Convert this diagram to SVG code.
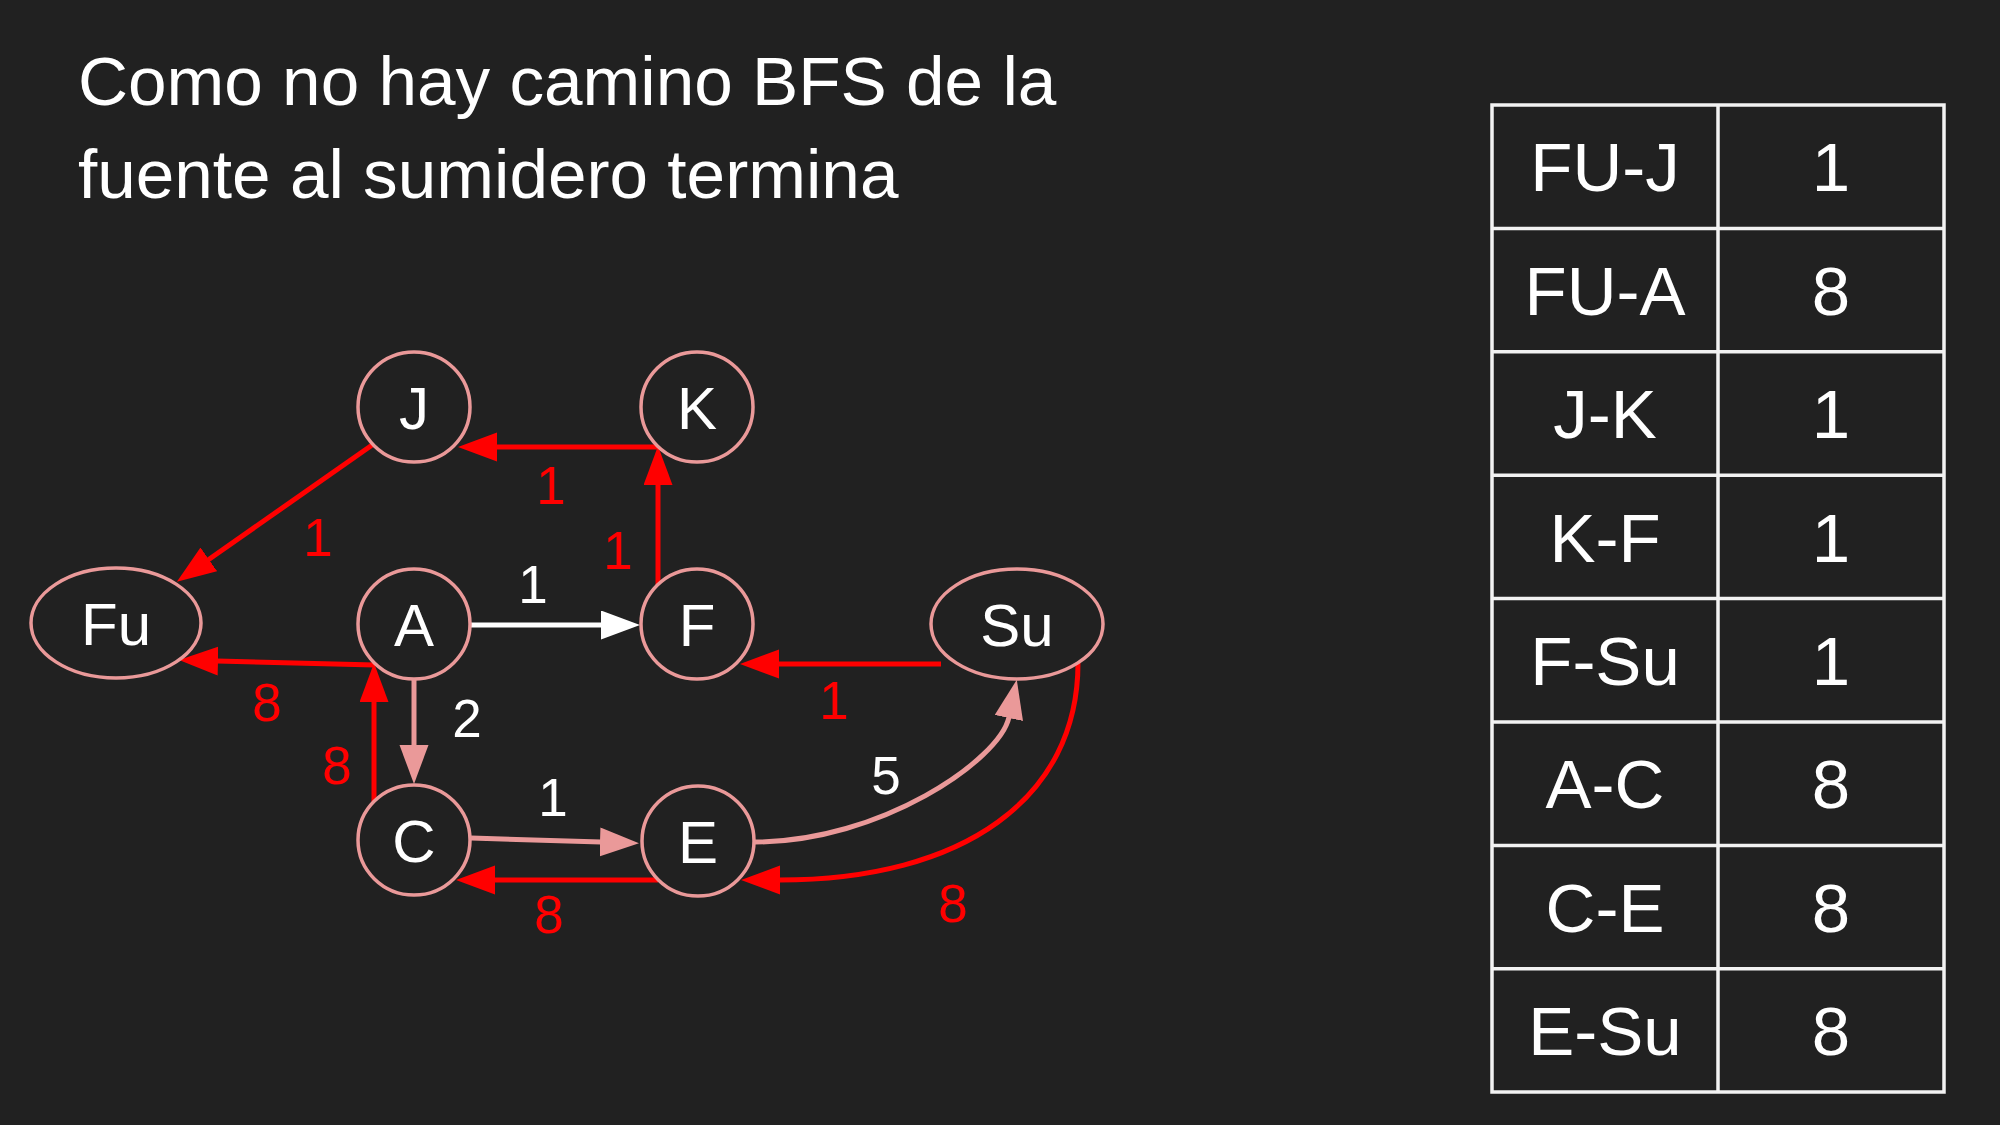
<svg xmlns="http://www.w3.org/2000/svg" width="2000" height="1125" viewBox="0 0 2000 1125">
<style>
text{font-family:"Liberation Sans",Arial,sans-serif;fill:#ffffff}
.title{font-size:69.3px}
.node ellipse{fill:#212121;stroke:#ea9999;stroke-width:3.5}
.node text{font-size:60px;text-anchor:middle}
.e{fill:none;stroke-width:5}
.red{stroke:#ff0000}
.pink{stroke:#ea9999}
.white{stroke:#ffffff}
.lbl{font-size:53px;text-anchor:middle}
.lr{fill:#ff0000}
.tbl line,.tbl rect{stroke:#f2f2f2;stroke-width:3.5;fill:none}
.tbl text{font-size:69px;text-anchor:middle}
</style>
<defs>
<marker id="ar" markerUnits="userSpaceOnUse" markerWidth="40" markerHeight="30" refX="1" refY="14.5" orient="auto"><path d="M0,0 L39,14.5 L0,29 Z" fill="#ff0000"/></marker>
<marker id="ap" markerUnits="userSpaceOnUse" markerWidth="40" markerHeight="30" refX="1" refY="14.5" orient="auto"><path d="M0,0 L39,14.5 L0,29 Z" fill="#ea9999"/></marker>
<marker id="aw" markerUnits="userSpaceOnUse" markerWidth="40" markerHeight="30" refX="1" refY="14.5" orient="auto"><path d="M0,0 L39,14.5 L0,29 Z" fill="#ffffff"/></marker>
</defs>
<rect width="2000" height="1125" fill="#212121"/>
<g id="title">
<text class="title" x="78" y="105">Como no hay camino BFS de la</text>
<text class="title" x="78" y="198">fuente al sumidero termina</text>
</g>
<g id="connectors">
<path class="e red" d="M375,443 L208,560" marker-end="url(#ar)"/>
<path class="e red" d="M658,447 L496,447" marker-end="url(#ar)"/>
<path class="e red" d="M658,587 L658,484" marker-end="url(#ar)"/>
<path class="e white" d="M470,625 L602,625" marker-end="url(#aw)"/>
<path class="e red" d="M375,665 L217,661" marker-end="url(#ar)"/>
<path class="e red" d="M374,802 L374,701" marker-end="url(#ar)"/>
<path class="e pink" d="M414,679 L414,746" marker-end="url(#ap)"/>
<path class="e pink" d="M471,838 L601,842" marker-end="url(#ap)"/>
<path class="e red" d="M658,880 L494,880" marker-end="url(#ar)"/>
<path class="e red" d="M941,664 L778,664" marker-end="url(#ar)"/>
<path class="e pink" d="M755,842 C880,842 1000,760 1009,717" marker-end="url(#ap)"/>
<path class="e red" d="M1078,663 C1078,798 964,880 779,880" marker-end="url(#ar)"/>
<text class="lbl lr" x="318" y="556">1</text>
<text class="lbl lr" x="551" y="504">1</text>
<text class="lbl lr" x="618" y="569">1</text>
<text class="lbl" x="533" y="603">1</text>
<text class="lbl lr" x="267" y="721">8</text>
<text class="lbl lr" x="337" y="784">8</text>
<text class="lbl" x="467" y="737">2</text>
<text class="lbl" x="553" y="816">1</text>
<text class="lbl lr" x="549" y="933">8</text>
<text class="lbl lr" x="834" y="719">1</text>
<text class="lbl" x="886" y="794">5</text>
<text class="lbl lr" x="953" y="922">8</text>
</g>
<g id="node-Fu" class="node"><ellipse cx="116" cy="623" rx="85" ry="55"/><text x="116" y="644.5">Fu</text></g>
<g id="node-J" class="node"><ellipse cx="414" cy="407" rx="56" ry="55"/><text x="414" y="428.5">J</text></g>
<g id="node-K" class="node"><ellipse cx="697" cy="407" rx="56" ry="55"/><text x="697" y="428.5">K</text></g>
<g id="node-A" class="node"><ellipse cx="414" cy="624" rx="56" ry="55"/><text x="414" y="645.5">A</text></g>
<g id="node-F" class="node"><ellipse cx="697" cy="624" rx="56" ry="55"/><text x="697" y="645.5">F</text></g>
<g id="node-Su" class="node"><ellipse cx="1017" cy="624" rx="86" ry="55"/><text x="1017" y="645.5">Su</text></g>
<g id="node-C" class="node"><ellipse cx="414" cy="840" rx="56" ry="55"/><text x="414" y="861.5">C</text></g>
<g id="node-E" class="node"><ellipse cx="698" cy="841" rx="56" ry="55"/><text x="698" y="862.5">E</text></g>
<g id="table" class="tbl">
<rect x="1492" y="105" width="452" height="987"/>
<line x1="1718" y1="105" x2="1718" y2="1092"/>
<line x1="1492" y1="228.4" x2="1944" y2="228.4"/>
<line x1="1492" y1="351.8" x2="1944" y2="351.8"/>
<line x1="1492" y1="475.2" x2="1944" y2="475.2"/>
<line x1="1492" y1="598.6" x2="1944" y2="598.6"/>
<line x1="1492" y1="722" x2="1944" y2="722"/>
<line x1="1492" y1="845.4" x2="1944" y2="845.4"/>
<line x1="1492" y1="968.8" x2="1944" y2="968.8"/>
<text x="1605" y="191.4">FU-J</text><text x="1831" y="191.4">1</text>
<text x="1605" y="314.8">FU-A</text><text x="1831" y="314.8">8</text>
<text x="1605" y="438.2">J-K</text><text x="1831" y="438.2">1</text>
<text x="1605" y="561.6">K-F</text><text x="1831" y="561.6">1</text>
<text x="1605" y="685">F-Su</text><text x="1831" y="685">1</text>
<text x="1605" y="808.4">A-C</text><text x="1831" y="808.4">8</text>
<text x="1605" y="931.8">C-E</text><text x="1831" y="931.8">8</text>
<text x="1605" y="1055.2">E-Su</text><text x="1831" y="1055.2">8</text>
</g>
</svg>
